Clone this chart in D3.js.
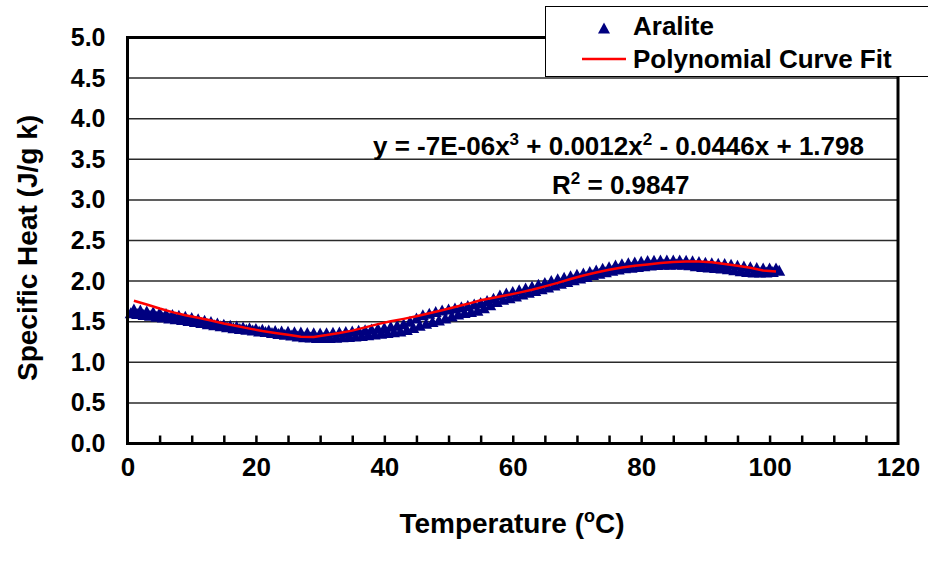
<!DOCTYPE html>
<html>
<head>
<meta charset="utf-8">
<script src="https://cdn.jsdelivr.net/npm/d3@7"></script>
<style>
  html, body { margin: 0; padding: 0; background: #fff; }
  svg { display: block; }
  text { font-family: "Liberation Sans", Arial, sans-serif; font-weight: bold; fill: #000; }
</style>
</head>
<body>
<svg id="chart" width="928" height="562"></svg>
<script>
// Measured specific heat of Aralite (J/g k) against temperature (°C)
const temps = [
  0.5, 1, 1.5, 2, 2.5, 3, 3.5, 4, 4.5, 5, 5.5, 6, 6.5, 7, 7.5, 8, 8.5, 9, 9.5, 10,
  10.5, 11, 11.5, 12, 12.5, 13, 13.5, 14, 14.5, 15, 15.5, 16, 16.5, 17, 17.5, 18, 18.5, 19, 19.5, 20,
  20.5, 21, 21.5, 22, 22.5, 23, 23.5, 24, 24.5, 25, 25.5, 26, 26.5, 27, 27.5, 28, 28.5, 29, 29.5, 30,
  30.5, 31, 31.5, 32, 32.5, 33, 33.5, 34, 34.5, 35, 35.5, 36, 36.5, 37, 37.5, 38, 38.5, 39, 39.5, 40,
  40.5, 41, 41.5, 42, 42.5, 43, 43.5, 44, 44.5, 45, 45.5, 46, 46.5, 47, 47.5, 48, 48.5, 49, 49.5, 50,
  50.5, 51, 51.5, 52, 52.5, 53, 53.5, 54, 54.5, 55, 55.5, 56, 56.5, 57, 57.5, 58, 58.5, 59, 59.5, 60,
  60.5, 61, 61.5, 62, 62.5, 63, 63.5, 64, 64.5, 65, 65.5, 66, 66.5, 67, 67.5, 68, 68.5, 69, 69.5, 70,
  70.5, 71, 71.5, 72, 72.5, 73, 73.5, 74, 74.5, 75, 75.5, 76, 76.5, 77, 77.5, 78, 78.5, 79, 79.5, 80,
  80.5, 81, 81.5, 82, 82.5, 83, 83.5, 84, 84.5, 85, 85.5, 86, 86.5, 87, 87.5, 88, 88.5, 89, 89.5, 90,
  90.5, 91, 91.5, 92, 92.5, 93, 93.5, 94, 94.5, 95, 95.5, 96, 96.5, 97, 97.5, 98, 98.5, 99, 99.5, 100,
  100.5, 101, 101.5
];
const specificHeat = [
  1.610, 1.655, 1.600, 1.645, 1.590, 1.633, 1.579, 1.622, 1.568, 1.612, 1.557, 1.601, 1.547, 1.590, 1.537, 1.579, 1.527, 1.567, 1.515, 1.552,
  1.502, 1.535, 1.489, 1.518, 1.475, 1.501, 1.462, 1.485, 1.449, 1.468, 1.437, 1.456, 1.427, 1.446, 1.417, 1.436, 1.407, 1.426, 1.397, 1.416,
  1.387, 1.407, 1.378, 1.399, 1.367, 1.393, 1.356, 1.387, 1.345, 1.381, 1.335, 1.376, 1.325, 1.372, 1.316, 1.368, 1.311, 1.365, 1.306, 1.362,
  1.304, 1.364, 1.306, 1.369, 1.310, 1.374, 1.314, 1.380, 1.319, 1.387, 1.324, 1.394, 1.330, 1.402, 1.339, 1.410, 1.349, 1.419, 1.359, 1.430,
  1.367, 1.443, 1.376, 1.456, 1.386, 1.475, 1.405, 1.505, 1.430, 1.545, 1.457, 1.585, 1.480, 1.605, 1.502, 1.625, 1.520, 1.643, 1.545, 1.657,
  1.570, 1.670, 1.595, 1.683, 1.612, 1.700, 1.627, 1.718, 1.642, 1.737, 1.672, 1.762, 1.708, 1.790, 1.748, 1.830, 1.775, 1.852, 1.796, 1.873,
  1.818, 1.894, 1.840, 1.915, 1.862, 1.937, 1.883, 1.960, 1.905, 1.983, 1.928, 2.006, 1.951, 2.030, 1.973, 2.048, 1.995, 2.065, 2.017, 2.083,
  2.038, 2.101, 2.058, 2.118, 2.080, 2.136, 2.098, 2.157, 2.116, 2.177, 2.133, 2.197, 2.150, 2.215, 2.163, 2.226, 2.172, 2.236, 2.181, 2.245,
  2.190, 2.253, 2.198, 2.258, 2.203, 2.260, 2.207, 2.261, 2.209, 2.261, 2.210, 2.260, 2.209, 2.257, 2.200, 2.250, 2.189, 2.240, 2.180, 2.232,
  2.174, 2.226, 2.168, 2.221, 2.162, 2.216, 2.152, 2.207, 2.140, 2.196, 2.126, 2.185, 2.117, 2.177, 2.113, 2.168, 2.111, 2.162, 2.112, 2.160,
  2.118, 2.160, 2.135
];

// Cubic trendline as plotted
const fitTemps = [1, 3, 5, 7, 9, 11, 13, 15, 17, 19, 21, 23, 25, 27, 29, 31, 33, 35, 37, 39, 41, 43, 45, 47, 49, 51,
  53, 55, 57, 59, 61, 63, 65, 67, 69, 71, 73, 75, 77, 79, 81, 83, 85, 87, 89, 91, 93, 95, 97, 99, 101];
const fitValues = [1.758, 1.712, 1.662, 1.618, 1.580, 1.548, 1.515, 1.478, 1.448, 1.415, 1.385, 1.360, 1.338, 1.315, 1.312, 1.335,
  1.362, 1.390, 1.430, 1.470, 1.505, 1.535, 1.568, 1.605, 1.640, 1.680, 1.720, 1.765, 1.795, 1.825, 1.858, 1.893, 1.935,
  1.978, 2.025, 2.068, 2.105, 2.140, 2.168, 2.188, 2.205, 2.222, 2.236, 2.242, 2.242, 2.232, 2.212, 2.190, 2.165, 2.130, 2.118];

const xTicks = [0, 20, 40, 60, 80, 100, 120];
const xMinorTicks = [5, 10, 15, 20, 25, 30, 35, 40, 45, 50, 55, 60, 65, 70, 75, 80, 85, 90, 95, 100, 105, 110, 115];
const yTicks = [0, 0.5, 1, 1.5, 2, 2.5, 3, 3.5, 4, 4.5, 5];

const seriesName = "Aralite";
const fitName = "Polynomial Curve Fit";

const svg = d3.select("#chart");
const x = d3.scaleLinear().domain([0, 120]).range([127.5, 898]);
const y = d3.scaleLinear().domain([0, 5]).range([443.5, 37.5]);

// horizontal gridlines
svg.append("g")
  .selectAll("line")
  .data(yTicks.filter(d => d > 0 && d < 5))
  .join("line")
  .attr("x1", x(0)).attr("x2", x(120))
  .attr("y1", d => y(d)).attr("y2", d => y(d))
  .attr("stroke", "#2a2a2a").attr("stroke-width", 1.5);

// triangle marker
const triW = 12, triH = 11;
const triPath = `M0,${-triH / 2}L${triW / 2},${triH / 2}L${-triW / 2},${triH / 2}Z`;

const points = temps.map((t, i) => ({ t, v: specificHeat[i] }));
svg.append("g")
  .selectAll("path")
  .data(points)
  .join("path")
  .attr("d", triPath)
  .attr("transform", d => `translate(${x(d.t)},${y(d.v)})`)
  .attr("fill", "#000080");

// fitted curve
const fitPts = fitTemps.map((t, i) => [t, fitValues[i]]);
svg.append("path")
  .datum(fitPts)
  .attr("d", d3.line().x(d => x(d[0])).y(d => y(d[1])))
  .attr("fill", "none")
  .attr("stroke", "#ff0000")
  .attr("stroke-width", 2.5)
  .attr("stroke-linejoin", "round");

// plot frame
svg.append("rect")
  .attr("x", x(0)).attr("y", y(5))
  .attr("width", x(120) - x(0)).attr("height", y(0) - y(5))
  .attr("fill", "none").attr("stroke", "#000").attr("stroke-width", 3);

// inward tick marks on the x axis
const gMinor = svg.append("g").attr("transform", `translate(0,${y(0)})`)
  .call(d3.axisBottom(x).tickValues(xMinorTicks).tickSize(-8).tickFormat(""));
gMinor.select(".domain").remove();
gMinor.selectAll(".tick line").attr("stroke", "#000").attr("stroke-width", 2.5);

// x tick labels
const gx = svg.append("g").attr("transform", `translate(0,${y(0)})`)
  .call(d3.axisBottom(x).tickValues(xTicks).tickSize(0).tickPadding(14).tickFormat(d3.format("d")));
gx.select(".domain").remove();
gx.selectAll("text").style("font-size", "26px").attr("font-family", null);

// y tick labels
const gy = svg.append("g").attr("transform", `translate(${x(0)},0)`)
  .call(d3.axisLeft(y).tickValues(yTicks).tickSize(0).tickPadding(22).tickFormat(d3.format(".1f")));
gy.select(".domain").remove();
gy.selectAll("text").style("font-size", "25px").attr("font-family", null);

// axis titles
const xTitle = svg.append("text")
  .attr("x", 512).attr("y", 533)
  .attr("text-anchor", "middle")
  .style("font-size", "28px");
xTitle.append("tspan").text("Temperature (");
xTitle.append("tspan").attr("dy", -11).style("font-size", "18px").text("o");
xTitle.append("tspan").attr("dy", 11).text("C)");

svg.append("text")
  .attr("transform", "translate(37,248) rotate(-90)")
  .attr("text-anchor", "middle")
  .style("font-size", "28px")
  .text("Specific Heat (J/g k)");

// trendline equation and R²
const eq = svg.append("text").attr("x", 373).attr("y", 155).style("font-size", "26px");
eq.append("tspan").text("y = -7E-06x");
eq.append("tspan").attr("dy", -10).style("font-size", "17px").text("3");
eq.append("tspan").attr("dy", 10).text(" + 0.0012x");
eq.append("tspan").attr("dy", -10).style("font-size", "17px").text("2");
eq.append("tspan").attr("dy", 10).text(" - 0.0446x + 1.798");

const r2 = svg.append("text").attr("x", 552).attr("y", 194).style("font-size", "26px");
r2.append("tspan").text("R");
r2.append("tspan").attr("dy", -10).style("font-size", "17px").text("2");
r2.append("tspan").attr("dy", 10).text(" = 0.9847");

// legend
const lg = svg.append("g");
lg.append("rect")
  .attr("x", 545.5).attr("y", 6.5).attr("width", 420).attr("height", 70)
  .attr("fill", "#fff").attr("stroke", "#000").attr("stroke-width", 1);
lg.append("path").attr("d", triPath).attr("transform", "translate(604,28)").attr("fill", "#000080");
lg.append("text").attr("x", 633).attr("y", 35).style("font-size", "26px").text(seriesName);
lg.append("line").attr("x1", 582).attr("x2", 626).attr("y1", 59).attr("y2", 59)
  .attr("stroke", "#ff0000").attr("stroke-width", 2.5);
lg.append("text").attr("x", 633).attr("y", 68).style("font-size", "26px").text(fitName);
</script>
</body>
</html>
